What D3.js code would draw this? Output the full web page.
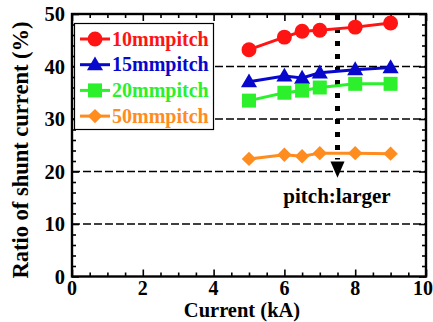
<!DOCTYPE html>
<html>
<head>
<meta charset="utf-8">
<script src="https://cdn.jsdelivr.net/npm/d3@7"></script>
<style>
  body { margin: 0; background: #fff; }
  text { font-family: "Liberation Serif", "Times New Roman", serif; font-weight: bold; }
</style>
</head>
<body>
<div id="chart"></div>
<script>
// Data
const currents = [5, 6, 6.5, 7, 8, 9];
const pitch10 = [43.2, 45.6, 46.7, 46.9, 47.5, 48.3];
const pitch15 = [37.1, 38.2, 37.8, 38.8, 39.4, 39.8];
const pitch20 = [33.5, 35.0, 35.4, 36.0, 36.7, 36.7];
const pitch50 = [22.4, 23.2, 22.9, 23.5, 23.5, 23.4];
const seriesNames = ["10mmpitch", "15mmpitch", "20mmpitch", "50mmpitch"];
const xTicks = [0, 2, 4, 6, 8, 10];
const yTicks = [0, 10, 20, 30, 40, 50];
const arrowX = 7.5;

const w = 433, h = 322;
const m = { left: 72, right: 7, top: 14, bottom: 45.5 };

const svg = d3.select("#chart").append("svg")
  .attr("width", w).attr("height", h);

const x = d3.scaleLinear().domain([0, 10]).range([m.left, w - m.right]);
const y = d3.scaleLinear().domain([0, 50]).range([h - m.bottom, m.top]);

const series = [
  { name: seriesNames[0], values: pitch10, color: "#ff1414", shape: "circle" },
  { name: seriesNames[1], values: pitch15, color: "#0808cc", shape: "triangle" },
  { name: seriesNames[2], values: pitch20, color: "#2bf02b", shape: "square" },
  { name: seriesNames[3], values: pitch50, color: "#ff8c1e", shape: "diamond" }
];

function marker(shape) {
  if (shape === "circle") return d3.symbol().type(d3.symbolCircle).size(175)();
  if (shape === "triangle") return d3.symbol().type(d3.symbolTriangle).size(112)();
  if (shape === "square") return d3.symbol().type(d3.symbolSquare).size(196)();
  return d3.symbol().type(d3.symbolSquare).size(104)();
}
function markerTransform(shape, px, py) {
  if (shape === "diamond") return `translate(${px},${py}) rotate(45)`;
  if (shape === "triangle") return `translate(${px},${py + 1})`;
  return `translate(${px},${py})`;
}

// dashed grid lines
svg.append("g").selectAll("line")
  .data([10, 20, 30, 40]).enter().append("line")
  .attr("x1", x(0)).attr("x2", x(10))
  .attr("y1", d => y(d)).attr("y2", d => y(d))
  .attr("stroke", "#000").attr("stroke-width", 1.6)
  .attr("stroke-dasharray", "8,3");

// axes with inward ticks
const gx = svg.append("g").attr("transform", `translate(0,${y(0)})`);
gx.call(d3.axisBottom(x).tickValues(d3.range(0, 10.01, 0.5)).tickSize(-4).tickFormat(""));
gx.call(g => g.selectAll(".tick line").filter(d => d % 2 === 0).attr("y2", -7));
const gxt = svg.append("g").attr("transform", `translate(0,${y(50)})`);
gxt.call(d3.axisTop(x).tickValues(d3.range(0, 10.01, 0.5)).tickSize(-4).tickFormat(""));
gxt.call(g => g.selectAll(".tick line").filter(d => d % 2 === 0).attr("y2", 7));
const gy = svg.append("g").attr("transform", `translate(${x(0)},0)`);
gy.call(d3.axisLeft(y).tickValues(d3.range(0, 50.01, 2)).tickSize(-4).tickFormat(""));
gy.call(g => g.selectAll(".tick line").filter(d => d % 10 === 0).attr("x2", 7));
const gyr = svg.append("g").attr("transform", `translate(${x(10)},0)`);
gyr.call(d3.axisRight(y).tickValues(d3.range(0, 50.01, 2)).tickSize(-4).tickFormat(""));
gyr.call(g => g.selectAll(".tick line").filter(d => d % 10 === 0).attr("x2", -7));
svg.selectAll(".domain").remove();
svg.selectAll(".tick line").attr("stroke", "#000").attr("stroke-width", 1.6);

svg.append("rect")
  .attr("x", x(0)).attr("y", y(50))
  .attr("width", x(10) - x(0)).attr("height", y(0) - y(50))
  .attr("fill", "none").attr("stroke", "#000").attr("stroke-width", 2.4);

// tick labels
svg.append("g").selectAll("text").data(xTicks).enter().append("text")
  .attr("x", d => d === 10 ? w : x(d))
  .attr("y", y(0) + 18)
  .attr("text-anchor", d => d === 10 ? "end" : "middle")
  .attr("font-size", 20)
  .text(d => d);
svg.append("g").selectAll("text").data(yTicks).enter().append("text")
  .attr("x", x(0) - 7).attr("y", d => y(d) + 7)
  .attr("text-anchor", "end").attr("font-size", 20.5)
  .text(d => d);

// axis titles
svg.append("text")
  .attr("x", 242).attr("y", 317)
  .attr("text-anchor", "middle").attr("font-size", 20.5)
  .text("Current (kA)");
svg.append("text")
  .attr("transform", `translate(28,150) rotate(-90)`)
  .attr("text-anchor", "middle").attr("font-size", 22.5)
  .text("Ratio of shunt current (%)");

// arrow
svg.append("line")
  .attr("x1", x(arrowX)).attr("x2", x(arrowX))
  .attr("y1", y(50) + 1).attr("y2", y(22.3))
  .attr("stroke", "#000").attr("stroke-width", 5)
  .attr("stroke-dasharray", "5,8");

// series
const line = d3.line().x((d, i) => x(currents[i])).y(d => y(d));
series.forEach(s => {
  svg.append("path").datum(s.values)
    .attr("d", line)
    .attr("fill", "none").attr("stroke", s.color).attr("stroke-width", 3);
  svg.append("g").selectAll("path").data(s.values).enter().append("path")
    .attr("transform", (d, i) => markerTransform(s.shape, x(currents[i]), y(d)))
    .attr("d", marker(s.shape))
    .attr("fill", s.color);
});

svg.append("path")
  .attr("d", `M${x(arrowX) - 7},${y(21.9)} L${x(arrowX) + 7},${y(21.9)} L${x(arrowX)},${y(18.8)} Z`)
  .attr("fill", "#000");
svg.append("text")
  .attr("x", 337).attr("y", 203)
  .attr("text-anchor", "middle").attr("font-size", 21)
  .text("pitch:larger");

// legend
const lg = svg.append("g");
lg.append("rect")
  .attr("x", 74.5).attr("y", 23.5).attr("width", 139).attr("height", 106)
  .attr("fill", "#fff").attr("stroke", "#000").attr("stroke-width", 1.2);
series.forEach((s, i) => {
  const ly = 39 + i * 25.7;
  lg.append("line").attr("x1", 80).attr("x2", 110).attr("y1", ly).attr("y2", ly)
    .attr("stroke", s.color).attr("stroke-width", 3);
  lg.append("path").attr("transform", markerTransform(s.shape, 95, ly))
    .attr("d", marker(s.shape))
    .attr("fill", s.color);
  lg.append("text").attr("x", 112).attr("y", ly + 6.5)
    .attr("font-size", 20).attr("fill", s.color)
    .text(s.name);
});
</script>
</body>
</html>
